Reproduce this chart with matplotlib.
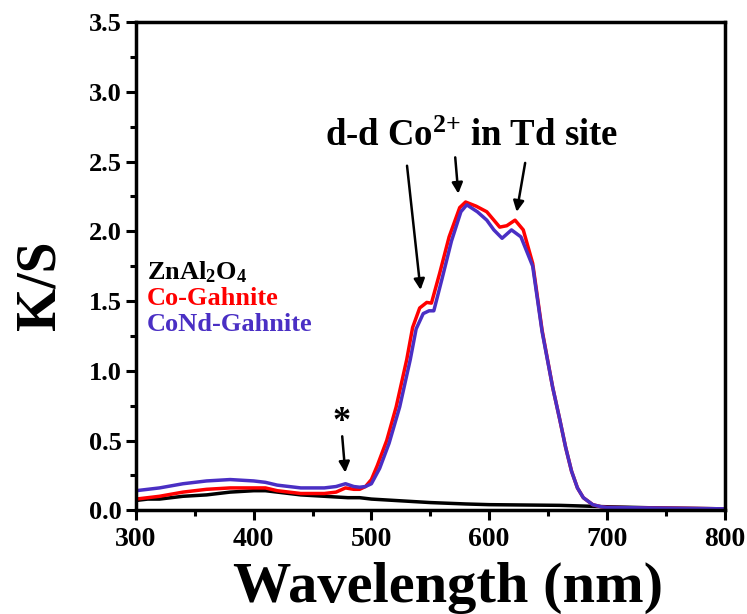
import matplotlib
matplotlib.use("Agg")
import matplotlib.pyplot as plt
from matplotlib.ticker import MultipleLocator, FormatStrFormatter

plt.rcParams['font.family'] = ['Liberation Serif', 'DejaVu Serif']
plt.rcParams['font.weight'] = 'bold'
plt.rcParams['mathtext.fontset'] = 'custom'
plt.rcParams['mathtext.rm'] = 'Liberation Serif:bold'
plt.rcParams['mathtext.bf'] = 'Liberation Serif:bold'
plt.rcParams['mathtext.default'] = 'rm'

# ZnAl2O4
wl_zn = [300, 310, 320, 340, 360, 380, 400, 410, 420, 440, 460, 480, 490, 500, 520, 550,
         580, 600, 660, 700, 750, 800]
ks_zn = [0.07, 0.08, 0.08, 0.10, 0.11, 0.13, 0.14, 0.14, 0.13, 0.11, 0.10, 0.09, 0.09, 0.08,
         0.07, 0.055, 0.045, 0.04, 0.035, 0.025, 0.015, 0.01]

# Co-Gahnite
wl_co = [300, 310, 320, 340, 360, 380, 400, 410, 420, 440, 460, 470, 478, 485, 490,
         495, 500, 505, 513, 521, 530, 535, 541, 547, 551, 558, 566, 575, 580, 589,
         598, 604, 609, 615, 622, 629, 637, 645, 654, 660, 665, 670, 675, 680, 688,
         695, 700, 750, 800]
ks_co = [0.08, 0.09, 0.10, 0.13, 0.15, 0.16, 0.16, 0.16, 0.14, 0.12, 0.12, 0.13, 0.16,
         0.15, 0.15, 0.17, 0.22, 0.32, 0.50, 0.74, 1.08, 1.31, 1.45, 1.49, 1.485, 1.70,
         1.96, 2.17, 2.21, 2.18, 2.14, 2.08, 2.03, 2.04, 2.08, 2.01, 1.77, 1.29, 0.88,
         0.65, 0.45, 0.28, 0.16, 0.09, 0.04, 0.025, 0.02, 0.015, 0.01]

# CoNd-Gahnite
wl_cond = [300, 310, 320, 340, 360, 380, 400, 410, 420, 440, 460, 470, 478, 485, 490,
           495, 500, 507, 515, 524, 533, 538, 544, 549, 553, 560, 568, 576, 581, 590,
           598, 604, 611, 619, 627, 637, 645, 654, 660, 665, 670, 675, 680, 688, 695,
           700, 750, 800]
ks_cond = [0.14, 0.15, 0.16, 0.19, 0.21, 0.22, 0.21, 0.20, 0.18, 0.16, 0.16, 0.17, 0.19,
           0.17, 0.165, 0.17, 0.19, 0.30, 0.48, 0.74, 1.08, 1.30, 1.41, 1.43, 1.43, 1.66,
           1.93, 2.14, 2.19, 2.14, 2.08, 2.01, 1.95, 2.01, 1.96, 1.75, 1.28, 0.88, 0.65,
           0.45, 0.28, 0.16, 0.09, 0.04, 0.025, 0.02, 0.015, 0.01]

RED = '#ff0000'
BLUE = '#4a2fc4'

fig = plt.figure(figsize=(7.47, 6.14), dpi=100)
ax = fig.add_axes([0.182, 0.169, 0.788, 0.795])

ax.plot(wl_zn, ks_zn, color='black', lw=2.5)
ax.plot(wl_co, ks_co, color=RED, lw=2.5)
ax.plot(wl_cond, ks_cond, color=BLUE, lw=2.5)

ax.set_xlim(300, 800)
ax.set_ylim(0, 3.5)
ax.xaxis.set_major_locator(MultipleLocator(100))
ax.xaxis.set_minor_locator(MultipleLocator(50))
ax.yaxis.set_major_locator(MultipleLocator(0.5))
ax.yaxis.set_minor_locator(MultipleLocator(0.25))
ax.yaxis.set_major_formatter(FormatStrFormatter('%.1f'))
ax.tick_params(which='major', direction='out', length=7, width=2.2)
ax.tick_params(which='minor', direction='out', length=4, width=2.2)
ax.tick_params(axis='x', labelsize=20, pad=5)
ax.tick_params(axis='y', labelsize=19, pad=3)
for lab in ax.get_xticklabels() + ax.get_yticklabels():
    lab.set_fontweight('bold')
for s in ax.spines.values():
    s.set_linewidth(2.5)

ax.set_xlabel('Wavelength (nm)', fontsize=42, fontweight='bold')
ax.set_ylabel('K/S', fontsize=40, fontweight='bold')
ax.xaxis.set_label_coords(0.53, -0.105)
ax.yaxis.set_label_coords(-0.118, 0.46)

# legend as coloured text
ax.text(309, 1.71, r'ZnAl$_{2}$O$_{4}$', fontsize=19, color='black', va='center')
ax.text(309, 1.52, 'Co-Gahnite', fontsize=19, color=RED, va='center')
ax.text(309, 1.33, 'CoNd-Gahnite', fontsize=19, color=BLUE, va='center')

# annotations
ax.text(585, 2.68, r'd-d Co$^{2{+}}$ in Td site', fontsize=26.5,
        ha='center', va='center')
arr = dict(arrowstyle='-|>', color='black', lw=1.8, mutation_scale=16)
ax.annotate('', xy=(542, 1.56), xytext=(530, 2.49), arrowprops=arr)
ax.annotate('', xy=(574, 2.25), xytext=(571, 2.55), arrowprops=arr)
ax.annotate('', xy=(623, 2.12), xytext=(631, 2.51), arrowprops=arr)
ax.text(475, 0.63, '*', fontsize=26, ha='center', va='center')
ax.annotate('', xy=(478, 0.25), xytext=(475, 0.55), arrowprops=arr)

fig.savefig('out.png', dpi=100)
